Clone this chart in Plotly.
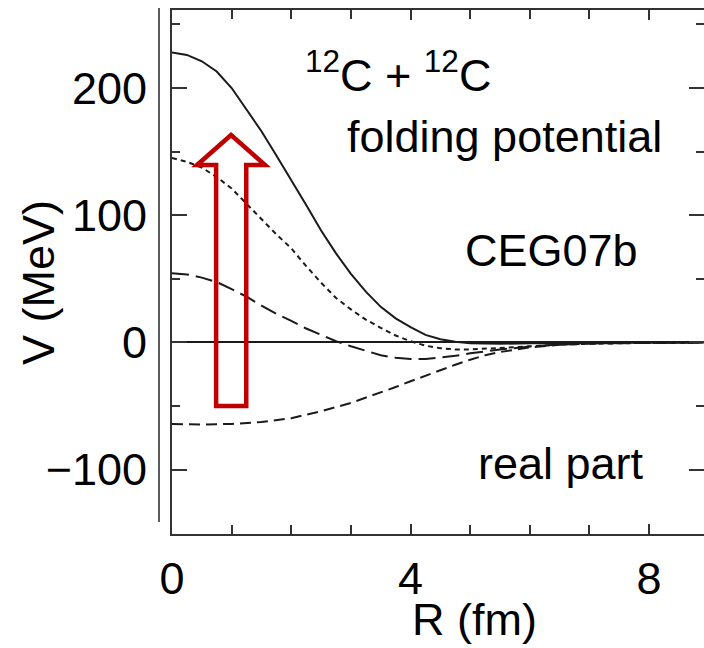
import plotly.graph_objects as go

# ---- data ----
R_solid = [0, 0.25, 0.5, 0.75, 1.0, 1.25, 1.5, 1.75, 2.0, 2.25, 2.5, 2.75, 3.0, 3.25, 3.5, 3.75, 4.0, 4.25, 4.5, 4.75, 5.0, 5.5, 6.0, 7.0, 8.0, 9.0]
V_solid = [228, 226, 221, 213, 200, 183, 166, 147, 128, 108, 88, 70, 54, 40, 28, 19, 12, 6, 2.5, 0.5, -0.5, -1, -0.6, -0.2, 0, 0]

R_dot = [0, 0.25, 0.5, 0.75, 1.0, 1.25, 1.5, 1.75, 2.0, 2.25, 2.5, 2.75, 3.0, 3.25, 3.5, 3.75, 4.0, 4.25, 4.5, 4.75, 5.0, 5.5, 6.0, 6.5, 7.0, 8.0, 9.0]
V_dot = [145, 142, 137.5, 130, 121, 109, 97, 85, 74, 60, 47, 35, 26, 18, 11.5, 5.5, 1, -2.5, -4.5, -5.5, -5.5, -4.5, -3, -1.8, -1, -0.3, 0]

R_ldash = [0, 0.25, 0.5, 0.75, 1.0, 1.25, 1.5, 1.75, 2.0, 2.25, 2.5, 2.75, 3.0, 3.25, 3.5, 3.75, 4.0, 4.25, 4.5, 4.75, 5.0, 5.5, 6.0, 6.5, 7.0, 8.0, 9.0]
V_ldash = [54.5, 53.5, 51, 47.5, 42, 36, 29, 22.5, 17, 11, 6, 1, -3, -6.5, -10, -12, -13, -13, -12, -10.5, -8.5, -5.5, -3.2, -1.5, -0.7, -0.2, 0]

R_neg = [0, 0.5, 1.0, 1.5, 2.0, 2.5, 3.0, 3.25, 3.5, 3.75, 4.0, 4.25, 4.5, 4.75, 5.0, 5.25, 5.5, 6.0, 6.5, 7.0, 8.0, 9.0]
V_neg = [-64, -64.5, -64, -62.5, -59.5, -54, -47.5, -43.5, -39.5, -35, -30.5, -26, -21.5, -17.5, -13.5, -10, -7.5, -3.8, -1.8, -0.8, -0.2, 0]

x_ticks = [0, 4, 8]
y_ticks = [-100, 0, 100, 200]

# ---- layout geometry ----
W, H = 704, 648
L, T, B, Rm = 172, 10, 114, 0
PW, PH = W - L - Rm, H - T - B
XR = [0, 8.92]
YR = [-150.5, 261.3]

def px(x):
    return (x - L) / PW

def py(y):
    return (H - B - y) / PH

FONT = "Liberation Sans, Arial, sans-serif"
INK = "#1a1a1a"

fig = go.Figure()
fig.add_trace(go.Scatter(x=R_neg, y=V_neg, mode="lines",
                         line=dict(color=INK, width=2, dash="11px,6px"), showlegend=False))
fig.add_trace(go.Scatter(x=R_ldash, y=V_ldash, mode="lines",
                         line=dict(color=INK, width=2, dash="17px,7px"), showlegend=False))
fig.add_trace(go.Scatter(x=R_dot, y=V_dot, mode="lines",
                         line=dict(color=INK, width=2, dash="5px,4px"), showlegend=False))
fig.add_trace(go.Scatter(x=R_solid, y=V_solid, mode="lines",
                         line=dict(color=INK, width=2), showlegend=False))
# invisible trace to activate right-hand tick axis
fig.add_trace(go.Scatter(x=[None], y=[None], yaxis="y2", showlegend=False, hoverinfo="skip"))

fig.update_layout(
    width=W, height=H,
    margin=dict(l=L, r=Rm, t=T, b=B),
    paper_bgcolor="white", plot_bgcolor="white",
    font=dict(family=FONT, size=45, color="black"),
    xaxis=dict(range=XR, tickvals=x_ticks, ticks="inside", ticklen=10, tickwidth=1.8,
               tickcolor="#333", showline=True, linecolor="#333", linewidth=2,
               mirror="ticks", showgrid=False, zeroline=False,
               minor=dict(dtick=1, ticks="inside", ticklen=9, tickwidth=1.8, tickcolor="#333"),
               tickfont=dict(size=45), ticklabelstandoff=4),
    yaxis=dict(range=YR, tickvals=y_ticks, ticks="inside", ticklen=15, tickwidth=1.8,
               tickcolor="#333", showline=True, linecolor="#333", linewidth=2,
               showgrid=False, zeroline=True, zerolinecolor=INK, zerolinewidth=1.8,
               minor=dict(tickvals=[-50, 50, 150, 250], ticks="inside", ticklen=8,
                          tickwidth=1.8, tickcolor="#333"),
               tickfont=dict(size=45), ticklabelstandoff=14),
    yaxis2=dict(range=YR, overlaying="y", side="right", tickvals=y_ticks, ticks="inside",
                ticklen=15, tickwidth=1.8, tickcolor="#333", showticklabels=False,
                showline=False, showgrid=False, zeroline=False,
                minor=dict(tickvals=[-50, 50, 150, 250], ticks="inside", ticklen=8,
                           tickwidth=1.8, tickcolor="#333")),
)

# red hollow arrow (annotation shape, in data coordinates)
arrow_path = ("M 0.42,139.5 L 0.99,163 L 1.56,139.5 L 1.245,139.5 L 1.245,-50 "
              "L 0.74,-50 L 0.74,139.5 Z")
fig.add_shape(type="path", path=arrow_path, xref="x", yref="y",
              line=dict(color="#C00000", width=4.5), fillcolor="rgba(0,0,0,0)")

# extra thin vertical line left of the axis
fig.add_shape(type="line", xref="paper", yref="paper",
              x0=px(159), x1=px(159), y0=py(8), y1=py(522),
              line=dict(color="#333", width=1.6))

# text annotations
def note(text, x, y, size=45, angle=0):
    fig.add_annotation(text=text, xref="paper", yref="paper", x=px(x), y=py(y),
                       xanchor="center", yanchor="middle", showarrow=False,
                       font=dict(family=FONT, size=size, color="black"), textangle=angle)

note("<sup>12</sup>C + <sup>12</sup>C", 398, 72)
note("folding potential", 504, 136)
note("CEG07b", 551, 250)
note("real part", 561, 463)
note("V (MeV)", 38, 283, angle=-90)
note("R (fm)", 474, 620)

fig.write_html("out.html")
